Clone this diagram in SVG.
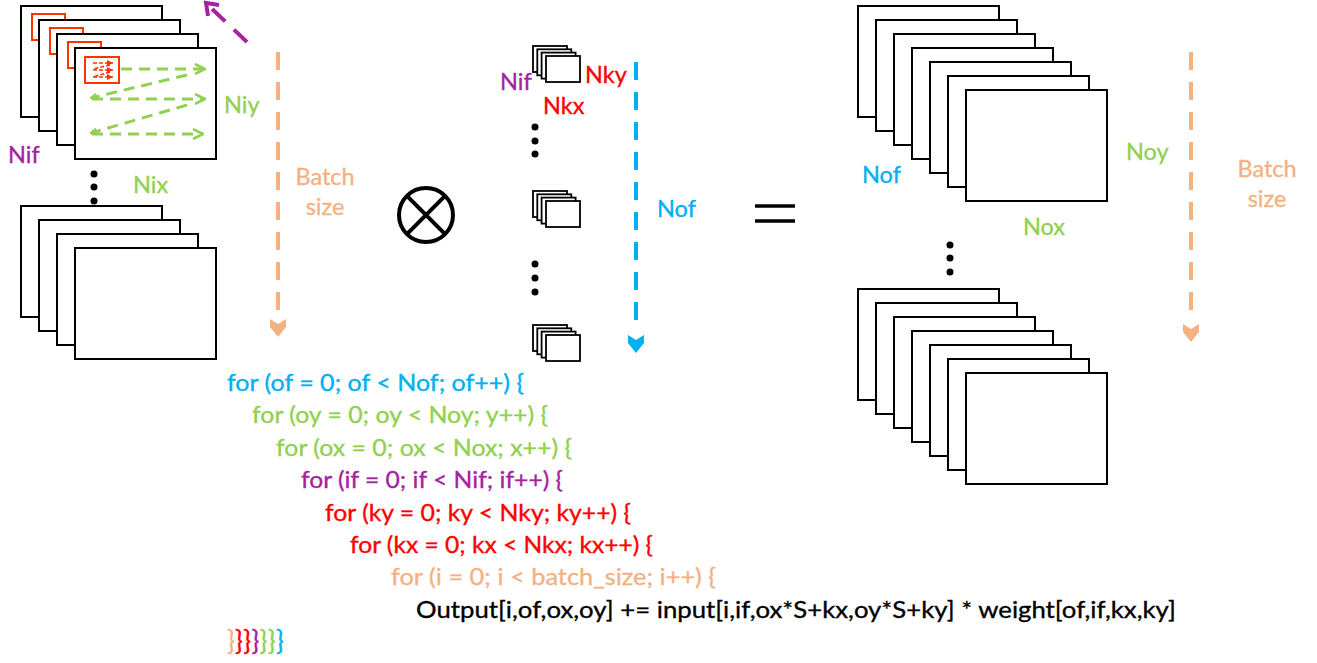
<svg xmlns="http://www.w3.org/2000/svg" width="1317" height="663" viewBox="0 0 1317 663">
  <style>
    .frame { fill: #fff; stroke: #000; stroke-width: 2; }
    .kern { fill: #fff; stroke: #000; stroke-width: 1.8; }
    .win { fill: none; stroke: #FF3300; stroke-width: 2; }
    .t { font-family: Lato, "Open Sans", sans-serif; font-size: 23.5px; stroke-width: 0.35px; }
    .green { fill: #92D050; stroke: #92D050; }
    .blue { fill: #00B0F0; stroke: #00B0F0; }
    .red { fill: #FF0000; stroke: #FF0000; }
    .purple { fill: #A5239F; stroke: #A5239F; }
    .orange { fill: #F4B183; stroke: #F4B183; }
    .black { fill: #000; stroke: #000; }
    .scan { fill: none; stroke: #92D050; stroke-width: 3; stroke-dasharray: 11 7; }
    .dim { fill: none; stroke-width: 4; stroke-dasharray: 18 12; }
    .dot { fill: #000; }
  </style>
  <defs>
    <marker id="scanHead" viewBox="0 0 12 12" refX="11" refY="6" markerWidth="12" markerHeight="12" markerUnits="userSpaceOnUse" orient="auto">
      <path d="M1,1 L11,6 L1,11" fill="none" stroke="#92D050" stroke-width="2.6"/>
    </marker>
    <marker id="scanBack" viewBox="0 0 8 8" refX="7" refY="4" markerWidth="8" markerHeight="8" markerUnits="userSpaceOnUse" orient="auto">
      <path d="M1,1 L7,4 L1,7" fill="none" stroke="#92D050" stroke-width="2"/>
    </marker>
    <marker id="tinyHead" viewBox="0 0 6 6" refX="6" refY="3" markerWidth="6" markerHeight="6" markerUnits="userSpaceOnUse" orient="auto">
      <path d="M0,0 L6,3 L0,6 Z" fill="#FF3300"/>
    </marker>
  </defs>

  <!-- input feature maps, first batch item -->
  <g id="input-batch-first">
    <rect class="frame" x="21" y="6" width="141" height="111"/>
    <rect class="win" x="32" y="14" width="33" height="26"/>
    <rect class="frame" x="39" y="20" width="141" height="111"/>
    <rect class="win" x="50" y="28" width="33" height="26"/>
    <rect class="frame" x="57" y="34" width="141" height="111"/>
    <rect class="win" x="68" y="42" width="33" height="26"/>
    <rect class="frame" x="75" y="48" width="141" height="111"/>
    <rect class="win" x="85" y="57" width="34" height="26"/>
    <!-- tiny scan inside the kernel window -->
    <g stroke="#FF3300" stroke-width="1.6" fill="none" stroke-dasharray="4 2">
      <line x1="93" y1="63" x2="113" y2="63" marker-end="url(#tinyHead)"/>
      <line x1="110" y1="65" x2="93" y2="69"/>
      <line x1="93" y1="70" x2="113" y2="70" marker-end="url(#tinyHead)"/>
      <line x1="110" y1="72" x2="93" y2="77"/>
      <line x1="93" y1="77" x2="113" y2="77" marker-end="url(#tinyHead)"/>
    </g>
    <!-- sliding-window scan order -->
    <line class="scan" x1="121" y1="69" x2="205" y2="69" marker-end="url(#scanHead)"/>
    <line class="scan" x1="187" y1="75" x2="91" y2="98" marker-end="url(#scanBack)"/>
    <line class="scan" x1="92" y1="99" x2="205" y2="99" marker-end="url(#scanHead)"/>
    <line class="scan" x1="187" y1="105" x2="91" y2="133" marker-end="url(#scanBack)"/>
    <line class="scan" x1="92" y1="134" x2="203" y2="134" marker-end="url(#scanHead)"/>
    <text class="t purple" x="8" y="163">Nif</text>
    <text class="t green" x="224" y="113">Niy</text>
    <text class="t green" x="133" y="193">Nix</text>
  </g>

  <g id="input-ellipsis">
    <circle class="dot" cx="94" cy="174" r="3.5"/>
    <circle class="dot" cx="94" cy="187" r="3.5"/>
    <circle class="dot" cx="94" cy="201" r="3.5"/>
  </g>

  <!-- input feature maps, last batch item -->
  <g id="input-batch-last">
    <rect class="frame" x="21" y="206" width="141" height="111"/>
    <rect class="frame" x="39" y="220" width="141" height="111"/>
    <rect class="frame" x="57" y="234" width="141" height="111"/>
    <rect class="frame" x="75" y="248" width="141" height="111"/>
  </g>

  <g id="input-batch-label">
    <text class="t orange" x="325" y="185" text-anchor="middle">Batch</text>
    <text class="t orange" x="325" y="215" text-anchor="middle">size</text>
  </g>

  <!-- convolution operator -->
  <g id="conv-operator" fill="none" stroke="#000" stroke-width="4">
    <circle cx="426" cy="215" r="27"/>
    <line x1="406.9" y1="195.9" x2="445.1" y2="234.1"/>
    <line x1="445.1" y1="195.9" x2="406.9" y2="234.1"/>
  </g>

  <!-- weight kernels -->
  <g id="kernel-first">
    <rect class="kern" x="533" y="46" width="34" height="26"/>
    <rect class="kern" x="537.3" y="49.3" width="34" height="26"/>
    <rect class="kern" x="541.6" y="52.6" width="34" height="26"/>
    <rect class="kern" x="546" y="56" width="34" height="26"/>
    <text class="t purple" x="500" y="90">Nif</text>
    <text class="t red" x="585" y="83">Nky</text>
    <text class="t red" x="543" y="114">Nkx</text>
  </g>
  <g id="kernel-ellipsis-1">
    <circle class="dot" cx="535" cy="127" r="3.5"/>
    <circle class="dot" cx="535" cy="141" r="3.5"/>
    <circle class="dot" cx="535" cy="154" r="3.5"/>
  </g>
  <g id="kernel-middle">
    <rect class="kern" x="533" y="191" width="34" height="26"/>
    <rect class="kern" x="537.3" y="194.3" width="34" height="26"/>
    <rect class="kern" x="541.6" y="197.6" width="34" height="26"/>
    <rect class="kern" x="546" y="201" width="34" height="26"/>
  </g>
  <g id="kernel-ellipsis-2">
    <circle class="dot" cx="535" cy="264" r="3.5"/>
    <circle class="dot" cx="535" cy="278" r="3.5"/>
    <circle class="dot" cx="535" cy="292" r="3.5"/>
  </g>
  <g id="kernel-last">
    <rect class="kern" x="533" y="325" width="34" height="26"/>
    <rect class="kern" x="537.3" y="328.3" width="34" height="26"/>
    <rect class="kern" x="541.6" y="331.6" width="34" height="26"/>
    <rect class="kern" x="546" y="335" width="34" height="26"/>
  </g>
  <g id="kernel-count-label">
    <text class="t blue" x="657" y="217">Nof</text>
  </g>

  <!-- equals sign -->
  <g id="equals" stroke="#000" stroke-width="3.5">
    <line x1="755" y1="206" x2="795" y2="206"/>
    <line x1="755" y1="221" x2="795" y2="221"/>
  </g>

  <!-- output feature maps, first batch item -->
  <g id="output-batch-first">
    <rect class="frame" x="858" y="6" width="141" height="111"/>
    <rect class="frame" x="876" y="20" width="141" height="111"/>
    <rect class="frame" x="894" y="34" width="141" height="111"/>
    <rect class="frame" x="912" y="48" width="141" height="111"/>
    <rect class="frame" x="930" y="62" width="141" height="111"/>
    <rect class="frame" x="948" y="76" width="141" height="111"/>
    <rect class="frame" x="966" y="90" width="141" height="111"/>
    <text class="t blue" x="862" y="183">Nof</text>
    <text class="t green" x="1023" y="235">Nox</text>
    <text class="t green" x="1126" y="160">Noy</text>
  </g>
  <g id="output-ellipsis">
    <circle class="dot" cx="950" cy="245" r="3.5"/>
    <circle class="dot" cx="950" cy="258" r="3.5"/>
    <circle class="dot" cx="950" cy="272" r="3.5"/>
  </g>
  <!-- output feature maps, last batch item -->
  <g id="output-batch-last">
    <rect class="frame" x="858" y="289" width="141" height="111"/>
    <rect class="frame" x="876" y="303" width="141" height="111"/>
    <rect class="frame" x="894" y="317" width="141" height="111"/>
    <rect class="frame" x="912" y="331" width="141" height="111"/>
    <rect class="frame" x="930" y="345" width="141" height="111"/>
    <rect class="frame" x="948" y="359" width="141" height="111"/>
    <rect class="frame" x="966" y="373" width="141" height="111"/>
  </g>
  <g id="output-batch-label">
    <text class="t orange" x="1267" y="177" text-anchor="middle">Batch</text>
    <text class="t orange" x="1267" y="207" text-anchor="middle">size</text>
  </g>

  <!-- dimension arrows -->
  <g id="connectors">
    <line class="dim" stroke="#F4B183" x1="278" y1="52" x2="278" y2="312"/>
    <path fill="#F4B183" d="M270,319 L278,324 L286,319 L286,327 L278,337 L270,327 Z"/>
    <line class="dim" stroke="#00B0F0" x1="636" y1="62" x2="636" y2="326"/>
    <path fill="#00B0F0" d="M628,335 L636,340 L644,335 L644,343 L636,353 L628,343 Z"/>
    <line class="dim" stroke="#F4B183" x1="1191" y1="52" x2="1191" y2="316"/>
    <path fill="#F4B183" d="M1183,324 L1191,329 L1199,324 L1199,332 L1191,342 L1183,332 Z"/>
    <line class="dim" stroke="#A5239F" x1="247" y1="42" x2="211" y2="8"/>
    <path d="M219,5 L206,3 L208,16" fill="none" stroke="#A5239F" stroke-width="4"/>
  </g>

  <!-- loop nest -->
  <g id="loop-code" class="t">
    <text class="blue" x="227" y="391" textLength="297" lengthAdjust="spacingAndGlyphs">for (of = 0; of &lt; Nof; of++) {</text>
    <text class="green" x="252" y="423.4" textLength="296" lengthAdjust="spacingAndGlyphs">for (oy = 0; oy &lt; Noy; y++) {</text>
    <text class="green" x="276" y="455.8" textLength="296" lengthAdjust="spacingAndGlyphs">for (ox = 0; ox &lt; Nox; x++) {</text>
    <text class="purple" x="301" y="488.2" textLength="262" lengthAdjust="spacingAndGlyphs">for (if = 0; if &lt; Nif; if++) {</text>
    <text class="red" x="325" y="520.6" textLength="306" lengthAdjust="spacingAndGlyphs">for (ky = 0; ky &lt; Nky; ky++) {</text>
    <text class="red" x="350" y="553" textLength="303" lengthAdjust="spacingAndGlyphs">for (kx = 0; kx &lt; Nkx; kx++) {</text>
    <text class="orange" x="391" y="585.4" textLength="325" lengthAdjust="spacingAndGlyphs">for (i = 0; i &lt; batch_size; i++) {</text>
    <text class="black" x="416" y="617.8" textLength="760" lengthAdjust="spacingAndGlyphs">Output[i,of,ox,oy] += input[i,if,ox*S+kx,oy*S+ky] * weight[of,if,kx,ky]</text>
    <text y="650" font-size="26"><tspan class="orange" x="227">}</tspan><tspan class="red" x="235.1">}</tspan><tspan class="red" x="243.3">}</tspan><tspan class="purple" x="251.4">}</tspan><tspan class="green" x="259.6">}</tspan><tspan class="green" x="267.7">}</tspan><tspan class="blue" x="275.9">}</tspan></text>
  </g>
</svg>
